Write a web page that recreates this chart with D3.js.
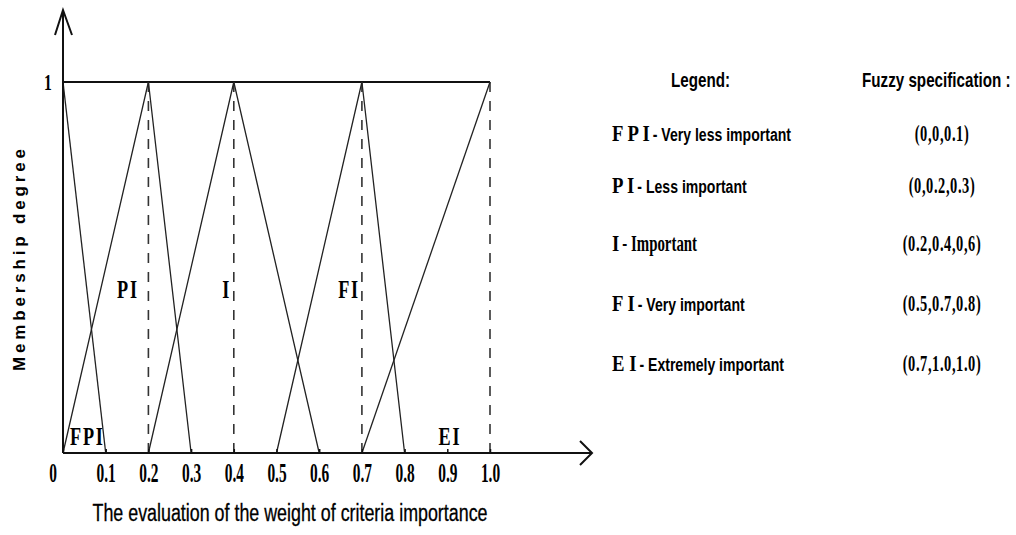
<!DOCTYPE html>
<html>
  <head>
    <meta charset="utf-8" />
    <title>Fuzzy membership functions</title>
    <style>
      body { margin: 0; background: #fff; }
      .axis-line { stroke: #111; stroke-width: 2px; fill: none; }
      .mf { fill: none; stroke: #222; stroke-width: 1.3px; }
      .peak { stroke: #333; stroke-width: 1.6px; stroke-dasharray: 10 9; }
    </style>
  </head>
  <body>
    <svg id="chart"></svg>

    <script src="https://d3js.org/d3.v7.min.js"></script>
    <script>
      // terms and their triangular fuzzy numbers (l, m, u)
      const terms = ["FPI", "PI", "I", "FI", "EI"];
      const termNames = ["Very less important", "Less important", "Important", "Very important", "Extremely important"];
      const lower = [0, 0, 0.2, 0.5, 0.7];
      const middle = [0, 0.2, 0.4, 0.7, 1.0];
      const upper = [0.1, 0.3, 0.6, 0.8, 1.0];
      const specLabels = ["(0,0,0.1)", "(0,0.2,0.3)", "(0.2,0.4,0,6)", "(0.5,0.7,0.8)", "(0.7,1.0,1.0)"];

      const xTicks = [0, 0.1, 0.2, 0.3, 0.4, 0.5, 0.6, 0.7, 0.8, 0.9, 1.0];
      const xTickLabels = ["0", "0.1", "0.2", "0.3", "0.4", "0.5", "0.6", "0.7", "0.8", "0.9", "1.0"];

      const width = 1016;
      const height = 535;
      const serif = "'Liberation Serif', 'Times New Roman', serif";
      const sans = "'Liberation Sans', Arial, sans-serif";

      const svg = d3.select("#chart").attr("width", width).attr("height", height);

      const xScale = d3.scaleLinear().domain([0, 1]).range([63, 490]);
      const yScale = d3.scaleLinear().domain([0, 1]).range([453, 82]);

      function label(g, str, x, y, o) {
        const t = g
          .append("text")
          .attr("transform", `translate(${x},${y}) scale(${o.sx || 1},1)`)
          .attr("font-family", o.family)
          .attr("font-size", o.size)
          .attr("font-weight", o.weight || "bold")
          .attr("text-anchor", o.anchor || "start")
          .attr("letter-spacing", o.ls || 0)
          .attr("fill", "#000")
          .text(str);
        return t.node().getComputedTextLength() * (o.sx || 1);
      }

      const chart = svg.append("g");

      // top line at membership 1
      chart
        .append("line")
        .attr("class", "axis-line")
        .attr("x1", xScale(0))
        .attr("x2", xScale(1))
        .attr("y1", yScale(1))
        .attr("y2", yScale(1));

      // dashed lines under each peak
      chart
        .selectAll(".peak")
        .data(middle.filter((m) => m > 0))
        .join("line")
        .attr("class", "peak")
        .attr("x1", (d) => xScale(d))
        .attr("x2", (d) => xScale(d))
        .attr("y1", yScale(1))
        .attr("y2", yScale(0));

      // triangles
      const line = d3
        .line()
        .x((d) => xScale(d[0]))
        .y((d) => yScale(d[1]));

      terms.forEach((t, i) => {
        const l = lower[i], m = middle[i], u = upper[i];
        const pts = [
          [l, l === m ? 1 : 0],
          [m, 1],
          [u, u === m ? 1 : 0],
        ];
        chart.append("path").attr("class", "mf").datum(pts).attr("d", line);
      });

      // axes
      const x0 = xScale(0), y0 = yScale(0);
      chart.append("line").attr("class", "axis-line").attr("x1", x0).attr("x2", x0).attr("y1", y0).attr("y2", 10);
      chart.append("path").attr("class", "axis-line").attr("stroke-width", 1.5)
        .attr("d", `M${x0 - 8},35 L${x0},10 L${x0 + 9},35`);
      chart.append("line").attr("class", "axis-line").attr("x1", x0).attr("x2", 592).attr("y1", y0).attr("y2", y0);
      chart.append("path").attr("class", "axis-line").attr("stroke-width", 1.5)
        .attr("d", `M580,${y0 - 12} L592,${y0} L580,${y0 + 12}`);

      const xAxis = chart
        .append("g")
        .attr("transform", `translate(0,${y0})`)
        .call(
          d3
            .axisBottom(xScale)
            .tickValues(xTicks)
            .tickFormat((d, i) => xTickLabels[i])
            .tickSize(-4)
            .tickPadding(12)
        );
      xAxis.select(".domain").remove();
      xAxis.selectAll(".tick line").attr("stroke", "#111").attr("stroke-width", 1.5);
      xAxis
        .selectAll(".tick text")
        .attr("font-family", serif)
        .attr("font-size", 28)
        .attr("font-weight", "bold")
        .attr("fill", "#000")
        .attr("dy", "0.62em")
        .attr("transform", "scale(0.55,1)");
      xAxis.selectAll(".tick").filter((d) => d === 0).select("text").attr("x", -19);

      // "1" on y axis
      label(chart, "1", x0 - 15, yScale(1) + 8, { family: serif, size: 24, sx: 0.65, anchor: "middle" });

      // term labels inside the plot (data coordinates)
      const termPos = [[0.057, 0.022], [0.152, 0.418], [0.383, 0.418], [0.67, 0.418], [0.906, 0.022]];
      terms.forEach((t, i) => {
        label(chart, t, xScale(termPos[i][0]), yScale(termPos[i][1]), {
          family: serif, size: 26, sx: 0.7, anchor: "middle", ls: 2.5,
        });
      });

      // axis titles
      chart
        .append("text")
        .attr("x", 290)
        .attr("y", 521)
        .attr("text-anchor", "middle")
        .attr("font-family", sans)
        .attr("font-size", 23)
        .attr("textLength", 395)
        .attr("lengthAdjust", "spacingAndGlyphs")
        .attr("stroke", "#000")
        .attr("stroke-width", 0.3)
        .text("The evaluation of the weight of criteria importance");

      chart
        .append("text")
        .attr("transform", "translate(25,260) rotate(-90)")
        .attr("text-anchor", "middle")
        .attr("font-family", sans)
        .attr("font-size", 17)
        .attr("font-weight", "bold")
        .attr("textLength", 222)
        .attr("lengthAdjust", "spacing")
        .text("Membership degree");

      // legend
      const legend = svg.append("g");
      const rowY = [141, 193, 251, 311, 371];
      label(legend, "Legend:", 671, 87, { family: sans, size: 20, sx: 0.76 });
      label(legend, "Fuzzy specification :", 862, 87, { family: sans, size: 20, sx: 0.76 });

      terms.forEach((t, i) => {
        const w = label(legend, t.split("").join(" "), 612, rowY[i], { family: serif, size: 24, sx: 0.78 });
        const desc = "- " + termNames[i];
        if (i === 2) {
          label(legend, desc, 612 + w + 3, rowY[i], { family: serif, size: 24, sx: 0.62 });
        } else {
          label(legend, desc, 612 + w + 3, rowY[i], { family: sans, size: 19, sx: 0.74 });
        }
        label(legend, specLabels[i], 942, rowY[i], {
          family: serif, size: 24, sx: 0.6, anchor: "middle", ls: 1,
        });
      });
    </script>
  </body>
</html>
